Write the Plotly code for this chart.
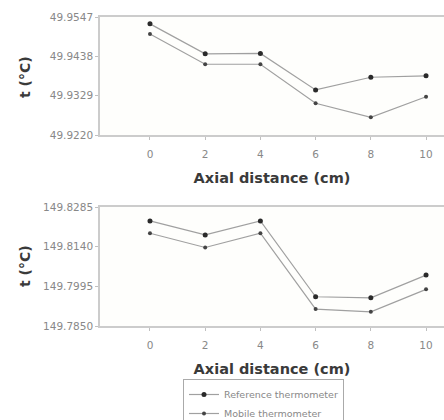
import plotly.graph_objects as go

x = [0, 2, 4, 6, 8, 10]
top_ref = [49.9528, 49.9445, 49.9446, 49.9345, 49.9380, 49.9384]
top_mob = [49.9500, 49.9416, 49.9416, 49.9308, 49.9269, 49.9326]
bot_ref = [149.8234, 149.8183, 149.8234, 149.7957, 149.7953, 149.8036]
bot_mob = [149.8189, 149.8137, 149.8189, 149.7912, 149.7902, 149.7984]
top_ticks = [49.9220, 49.9329, 49.9438, 49.9547]
bot_ticks = [149.7850, 149.7995, 149.8140, 149.8285]
x_ticks = [0, 2, 4, 6, 8, 10]
names = ["Reference thermometer", "Mobile thermometer"]

W, H = 444, 420
FONT = "DejaVu Sans"
fig = go.Figure()
line = dict(color="#a0a0a0", width=1.2)
fig.add_trace(go.Scatter(x=x, y=top_ref, mode="lines+markers", name=names[0],
                         line=line, marker=dict(color="#2a2a2a", size=5),
                         xaxis="x", yaxis="y"))
fig.add_trace(go.Scatter(x=x, y=top_mob, mode="lines+markers", name=names[1],
                         line=line, marker=dict(color="#444444", size=4),
                         xaxis="x", yaxis="y"))
fig.add_trace(go.Scatter(x=x, y=bot_ref, mode="lines+markers", showlegend=False,
                         line=line, marker=dict(color="#2a2a2a", size=5),
                         xaxis="x2", yaxis="y2"))
fig.add_trace(go.Scatter(x=x, y=bot_mob, mode="lines+markers", showlegend=False,
                         line=line, marker=dict(color="#444444", size=4),
                         xaxis="x2", yaxis="y2"))

xl, xr = 100 / W, 1.0
def ydom(top, bot):
    return [1 - bot / H, 1 - top / H]

tickfont = dict(family=FONT, size=10.5, color="#888888")
xcommon = dict(range=[-1.81, 10.65], tickvals=x_ticks, ticks="outside", ticklen=3,
               tickcolor="#c0c0c0", showline=True, linecolor="#cccccc", linewidth=1.5,
               mirror=True, showgrid=False, zeroline=False, tickfont=tickfont,
               ticklabelstandoff=6, domain=[xl, xr], automargin=False,
               title=dict(text="<b>Axial distance (cm)</b>", standoff=14,
                          font=dict(family=FONT, size=14.5, color="#3a3a3a")))
ycommon = dict(ticks="outside", ticklen=3, tickcolor="#c0c0c0", showline=True,
               linecolor="#cccccc", linewidth=1.5, showgrid=False, zeroline=False,
               tickfont=tickfont, automargin=False)

fig.update_layout(
    width=W, height=H, margin=dict(l=0, r=0, t=0, b=0, autoexpand=False),
    paper_bgcolor="white", plot_bgcolor="#fefefc",
    xaxis=dict(**xcommon, anchor="y"),
    xaxis2=dict(**xcommon, anchor="y2"),
    yaxis=dict(**ycommon, domain=ydom(17, 135), range=[top_ticks[0], top_ticks[-1]],
               tickvals=top_ticks, ticktext=[f"{v:.4f}" for v in top_ticks], anchor="x"),
    yaxis2=dict(**ycommon, domain=ydom(207, 326), range=[bot_ticks[0], bot_ticks[-1]],
                tickvals=bot_ticks, ticktext=[f"{v:.4f}" for v in bot_ticks], anchor="x2"),
    legend=dict(x=183 / W, y=1 - 379 / H, xanchor="left", yanchor="top",
                bordercolor="#aaaaaa", borderwidth=1, bgcolor="white",
                font=dict(family=FONT, size=9.5, color="#888888"),
                tracegroupgap=0, itemwidth=30),
    showlegend=True,
)
for yc in [77, 266]:
    fig.add_annotation(text="<b>t (°C)</b>", textangle=-90, x=25 / W, y=1 - yc / H,
                       xref="paper", yref="paper", xanchor="center", yanchor="middle",
                       showarrow=False,
                       font=dict(family=FONT, size=14, color="#3a3a3a"))

fig.write_html("out.html")
